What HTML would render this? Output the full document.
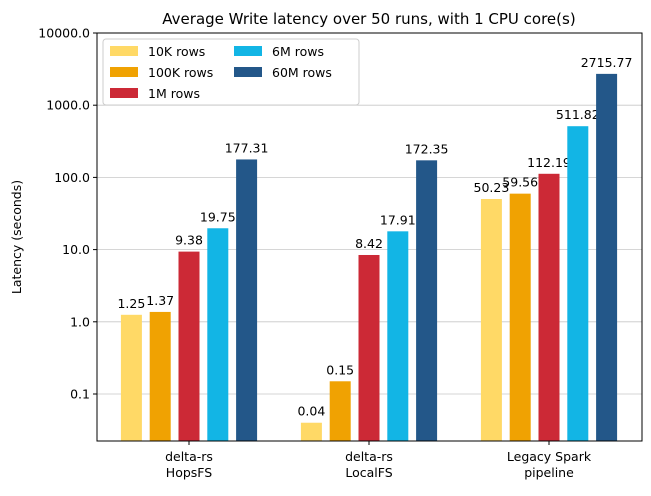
<!DOCTYPE html>
<html><head><meta charset="utf-8"><style>
body{margin:0;background:#fff;font-family:"Liberation Sans","DejaVu Sans",sans-serif}
svg text{font-family:"DejaVu Sans","Liberation Sans",sans-serif}
</style></head><body>
<svg id="chart" width="651" height="491" xmlns="http://www.w3.org/2000/svg"></svg>
<script>
const categories=[["delta-rs","HopsFS"],["delta-rs","LocalFS"],["Legacy Spark","pipeline"]];
const seriesNames=["10K rows","100K rows","1M rows","6M rows","60M rows"];
const s10k=[1.25,0.04,50.23];
const s100k=[1.37,0.15,59.56];
const s1m=[9.38,8.42,112.19];
const s6m=[19.75,17.91,511.82];
const s60m=[177.31,172.35,2715.77];
const tickVals=[0.1,1,10,100,1000,10000];
const tickLabels=["0.1","1.0","10.0","100.0","1000.0","10000.0"];
const series=[s10k,s100k,s1m,s6m,s60m];
const colors=["#FFD966","#F0A202","#CC2936","#12B5E5","#235789"];
const svg=document.getElementById('chart');const NS="http://www.w3.org/2000/svg";
const L=97,R=642,T=33,B=441,decade=72.2;
const y=v=>T+(4-Math.log10(v))*decade;
const gx=i=>189+i*180;
function mk(t,a,p){const e=document.createElementNS(NS,t);for(const k in a)e.setAttribute(k,a[k]);(p||svg).appendChild(e);return e;}
tickVals.forEach((v,i)=>{const yy=y(v);
 const g=mk('line',{x1:L,x2:R,y1:yy,y2:yy,stroke:'#c8c8c8','stroke-width':0.8});
 
 
 mk('line',{x1:L-4,x2:L,y1:yy,y2:yy,stroke:'#000'});
 const t=mk('text',{x:L-7,y:yy+4.5,'text-anchor':'end','font-size':12.5});t.textContent=tickLabels[i];
 
 
});
series.forEach((s,si)=>{s.forEach((v,ci)=>{
 const cx=gx(ci)+(si-2)*28.8;const top=y(v);
 const r=mk('rect',{x:cx-10.5,y:top,width:21,height:B-top,fill:colors[si]});
 
 
 const t=mk('text',{x:cx,y:top-7,'text-anchor':'middle','font-size':12.5});t.textContent=v.toFixed(2);
 
 
});});
mk('rect',{x:L,y:T,width:R-L,height:B-T,fill:'none',stroke:'#000','stroke-width':1});
categories.forEach((c,i)=>{mk('line',{x1:gx(i),x2:gx(i),y1:B,y2:B+4,stroke:'#000'});
 c.forEach((ln,j)=>{const t=mk('text',{x:gx(i),y:B+20+j*16,'text-anchor':'middle','font-size':12.5});t.textContent=ln;
 
 });});
const tt=mk('text',{x:369,y:24,'text-anchor':'middle','font-size':15});tt.textContent="Average Write latency over 50 runs, with 1 CPU core(s)";


const yt=mk('text',{x:0,y:0,'text-anchor':'middle','font-size':12.5,transform:'translate(21,237) rotate(-90)'});yt.textContent="Latency (seconds)";


const lg=mk('rect',{x:103,y:39,width:256,height:66,rx:3,fill:'#fff','fill-opacity':0.8,stroke:'#ccc'});


seriesNames.forEach((n,i)=>{const col=i<3?0:1,row=i<3?i:i-3;const x=110+col*124,yy=46+row*21;
 mk('rect',{x:x,y:yy,width:28,height:10,fill:colors[i]});
 const t=mk('text',{x:x+38,y:yy+10,'font-size':12.5});t.textContent=n;
 
 });
</script></body></html>
